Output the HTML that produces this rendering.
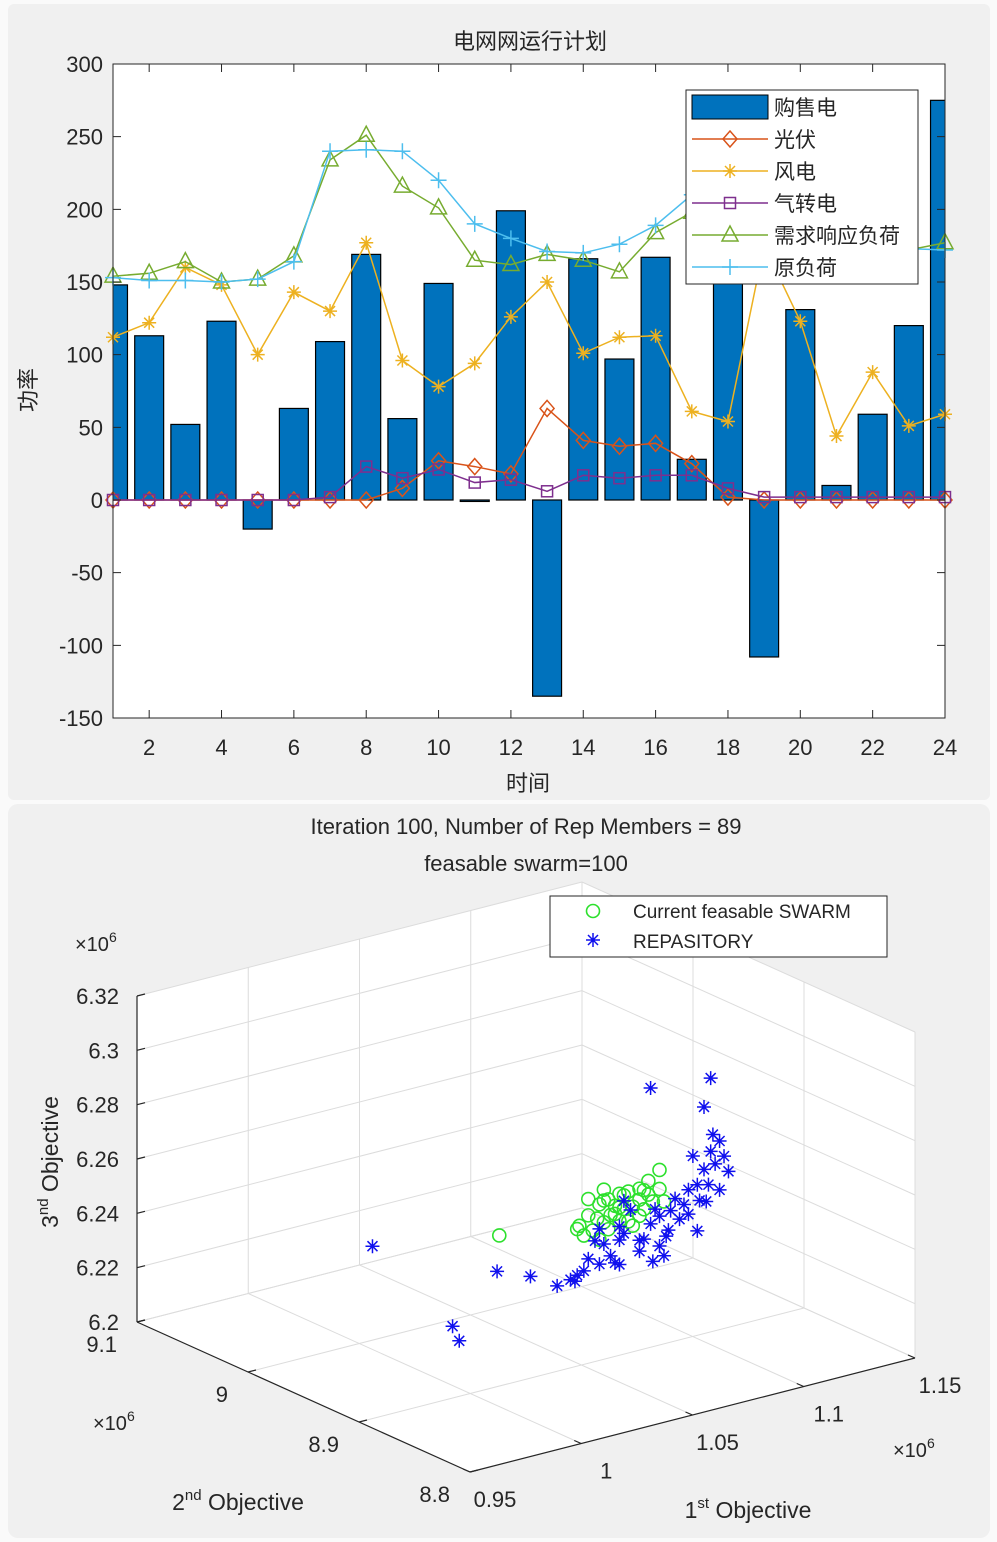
<!DOCTYPE html>
<html><head><meta charset="utf-8">
<style>
html,body{margin:0;padding:0;background:#fafafa;width:997px;height:1542px;overflow:hidden}
svg{position:absolute;left:0;top:0}
text{font-family:"Liberation Sans","Noto Sans CJK SC",sans-serif;fill:#262626}
</style></head>
<body>
<svg id="chart" width="997" height="1542">
<rect x="8" y="4" width="982" height="796" rx="6" fill="#f0f0f0"/>
<rect x="8" y="804" width="982" height="734" rx="10" fill="#f0f0f0"/>
<g id="top"></g>
<g id="bot"></g>
</svg>
<script>
// ===== top chart data =====
const hours=[1,2,3,4,5,6,7,8,9,10,11,12,13,14,15,16,17,18,19,20,21,22,23,24];
const gridPower=[148,113,52,123,-20,63,109,169,56,149,-1,199,-135,166,97,167,28,160,-108,131,10,59,120,275];
const pvPower=[0,0,0,0,0,0,0,0,8,27,23,18,63,41,37,39,25,2,0,0,0,0,0,0];
const windPower=[112,122,160,148,100,143,130,177,96,78,94,126,150,101,112,113,61,54,175,123,44,88,51,59];
const gasPower=[0,0,0,0,0,0,2,23,15,21,12,14,6,17,15,17,17,8,2,2,2,2,2,2];
const drLoad=[154,156,164,150,152,168,234,251,216,201,165,162,169,165,157,184,198,210,205,195,185,175,172,177];
const origLoad=[153,151,151,150,152,164,240,241,240,220,190,180,171,170,176,189,210,220,215,200,190,180,173,172];
const yTicks=[300,250,200,150,100,50,0,-50,-100,-150];
const xTicks=[2,4,6,8,10,12,14,16,18,20,22,24];
// ===== bottom chart data =====
const swarmObj1=[1.074,1.078,1.083,1.087,1.092,1.096,1.101,1.105,1.110,1.112,1.076,1.080,1.085,1.090,1.094,1.098,1.103,1.083,1.087,1.092,1.096,1.101,1.078,1.085,1.105,1.073,1.101,1.090,1.038,1.110,1.094,1.088,1.098,1.107,1.082,1.103,1.092,1.085];
const swarmObj2=[8.95,8.95,8.95,8.95,8.95,8.95,8.95,8.95,8.95,8.95,8.95,8.95,8.95,8.95,8.95,8.95,8.95,8.95,8.95,8.95,8.95,8.95,8.95,8.95,8.95,8.95,8.95,8.95,8.95,8.95,8.95,8.95,8.95,8.95,8.95,8.95,8.95,8.95];
const swarmObj3=[6.237,6.240,6.243,6.244,6.245,6.245,6.245,6.242,6.243,6.238,6.233,6.234,6.236,6.238,6.239,6.239,6.237,6.230,6.233,6.235,6.234,6.235,6.246,6.248,6.247,6.236,6.241,6.241,6.241,6.250,6.244,6.238,6.232,6.239,6.238,6.244,6.240,6.244];
const repObj1=[0.981,1.037,1.052,1.064,1.017,1.020,1.106,1.133,1.130,1.137,1.125,1.141,1.073,1.083,1.092,1.101,1.110,1.114,1.123,1.128,1.132,1.135,1.083,1.092,1.112,1.119,1.076,1.088,1.106,1.101,1.123,1.130,1.137,1.070,1.081,1.097,1.117,1.108,1.133,1.127,1.092,1.094,1.085,1.094,1.103,1.110,1.115,1.121,1.127,1.131,1.134,1.139,1.078,1.090,1.107,1.113,1.072];
const repObj2=[8.95,8.95,8.95,8.95,8.95,8.95,8.95,8.95,8.95,8.95,8.95,8.95,8.95,8.95,8.95,8.95,8.95,8.95,8.95,8.95,8.95,8.95,8.95,8.95,8.95,8.95,8.95,8.95,8.95,8.95,8.95,8.95,8.95,8.95,8.95,8.95,8.95,8.95,8.95,8.95,8.95,8.95,8.95,8.95,8.95,8.95,8.95,8.95,8.95,8.95,8.95,8.95,8.95,8.95,8.95,8.95,8.95];
const repObj3=[6.249,6.228,6.223,6.217,6.212,6.206,6.281,6.279,6.269,6.255,6.252,6.243,6.219,6.221,6.219,6.222,6.222,6.227,6.231,6.235,6.240,6.247,6.234,6.228,6.218,6.230,6.220,6.223,6.231,6.226,6.240,6.246,6.237,6.218,6.230,6.238,6.238,6.236,6.252,6.224,6.233,6.242,6.228,6.230,6.226,6.233,6.234,6.235,6.241,6.234,6.258,6.249,6.224,6.220,6.217,6.225,6.217];
const zTicks=[6.2,6.22,6.24,6.26,6.28,6.3,6.32];
const o1Ticks=[0.95,1,1.05,1.1,1.15];
const o2Ticks=[8.8,8.9,9,9.1];

const NS="http://www.w3.org/2000/svg";
function mk(parent,tag,attrs,txt){const e=document.createElementNS(NS,tag);for(const k in attrs)e.setAttribute(k,attrs[k]);if(txt!==undefined)e.textContent=txt;parent.appendChild(e);return e;}

// ---------- TOP ----------
const T=document.getElementById('top');
const L=113,R=945,TP=64,B=718;
const xs=v=>L+(v-1)*(R-L)/23;
const ys=v=>TP+(300-v)*(B-TP)/450;
const plot=mk(T,'rect',{x:L,y:TP,width:R-L,height:B-TP,fill:'#fff'});


const defs=mk(T,'defs',{});
const cp=mk(defs,'clipPath',{id:'clipTop'});
mk(cp,'rect',{x:L,y:TP,width:R-L,height:B-TP});
const gBars=mk(T,'g',{'clip-path':'url(#clipTop)'});


const bw=0.8*(R-L)/23;
hours.forEach((h,i)=>{
  const v=gridPower[i];const y0=ys(0),y1=ys(v);
  const r=mk(gBars,'rect',{x:xs(h)-bw/2,y:Math.min(y0,y1),width:bw,height:Math.max(1,Math.abs(y1-y0)),fill:'#0072BD',stroke:'#000','stroke-width':1.2});
  
  
});
function marker(g,type,x,y,c){
  const s=7,sw=1.5;
  if(type==='diamond')mk(g,'polygon',{points:`${x},${y-s-1} ${x+s},${y} ${x},${y+s+1} ${x-s},${y}`,fill:'none',stroke:c,'stroke-width':sw});
  else if(type==='square')mk(g,'rect',{x:x-5.5,y:y-5.5,width:11,height:11,fill:'none',stroke:c,'stroke-width':sw});
  else if(type==='tri')mk(g,'polygon',{points:`${x},${y-9} ${x+8},${y+6} ${x-8},${y+6}`,fill:'none',stroke:c,'stroke-width':sw});
  else if(type==='plus'){mk(g,'path',{d:`M${x-8},${y}H${x+8}M${x},${y-8}V${y+8}`,stroke:c,'stroke-width':sw});}
  else if(type==='star'){mk(g,'path',{d:`M${x-7},${y}H${x+7}M${x},${y-7}V${y+7}M${x-5},${y-5}L${x+5},${y+5}M${x-5},${y+5}L${x+5},${y-5}`,stroke:c,'stroke-width':sw});}
}
const series=[
 {name:'line-pv',data:pvPower,c:'#D95319',m:'diamond'},
 {name:'line-wind',data:windPower,c:'#EDB120',m:'star'},
 {name:'line-gas',data:gasPower,c:'#7E2F8E',m:'square'},
 {name:'line-demand-response-load',data:drLoad,c:'#77AC30',m:'tri'},
 {name:'line-original-load',data:origLoad,c:'#4DBEEE',m:'plus'}];
series.forEach(s=>{
  const g=mk(T,'g',{});
  
  
  mk(g,'polyline',{points:hours.map((h,i)=>xs(h)+','+ys(s.data[i])).join(' '),fill:'none',stroke:s.c,'stroke-width':1.5});
  hours.forEach((h,i)=>marker(g,s.m,xs(h),ys(s.data[i]),s.c));
});
const ax=mk(T,'g',{});


mk(ax,'rect',{x:L,y:TP,width:R-L,height:B-TP,fill:'none',stroke:'#262626','stroke-width':1});
yTicks.forEach(v=>{
  mk(ax,'path',{d:`M${L},${ys(v)}h8M${R},${ys(v)}h-8`,stroke:'#262626'});
  const t=mk(ax,'text',{x:L-10,y:ys(v)+8,'text-anchor':'end','font-size':22},String(v));
  
  
});
xTicks.forEach(v=>{
  mk(ax,'path',{d:`M${xs(v)},${B}v-8M${xs(v)},${TP}v8`,stroke:'#262626'});
  const t=mk(ax,'text',{x:xs(v),y:B+37,'text-anchor':'middle','font-size':22},String(v));
  
  
});
let t;
t=mk(T,'text',{x:530,y:49,'text-anchor':'middle','font-size':22},'电网网运行计划');

t=mk(T,'text',{x:528,y:791,'text-anchor':'middle','font-size':22,fill:'#555'},'时间');

t=mk(T,'text',{x:0,y:0,'text-anchor':'middle','font-size':22,transform:'translate(36,390) rotate(-90)'},'功率');

const lg=mk(T,'g',{});


mk(lg,'rect',{x:686,y:90,width:232,height:194,fill:'#fff',stroke:'#262626'});
const labels=['购售电','光伏','风电','气转电','需求响应负荷','原负荷'];
labels.forEach((lb,i)=>{
  const y=107+i*32;
  const e=mk(lg,'g',{});
  
  
  if(i===0)mk(e,'rect',{x:692,y:y-12,width:76,height:24,fill:'#0072BD',stroke:'#000'});
  else{const s=series[i-1];mk(e,'path',{d:`M692,${y}H768`,stroke:s.c,'stroke-width':1.5});marker(e,s.m,730,y,s.c);}
  mk(e,'text',{x:774,y:y+8,'font-size':21,fill:'#333'},lb);
});

// ---------- BOTTOM ----------
const Bt=document.getElementById('bot');
const front=[470,1472],right=[915,1358],left=[137,1322];
const zPx=326;
function P(o1,o2,z){const u=(o1-0.95)/0.2,v=(o2-8.8)/0.3,w=(z-6.2)/0.12;
 return [front[0]+u*(right[0]-front[0])+v*(left[0]-front[0]), front[1]+u*(right[1]-front[1])+v*(left[1]-front[1])-w*zPx];}
const pts=(a)=>a.map(p=>p.join(',')).join(' ');
const panes=mk(Bt,'g',{});


mk(panes,'polygon',{points:pts([P(0.95,9.1,6.2),P(1.15,9.1,6.2),P(1.15,9.1,6.32),P(0.95,9.1,6.32)]),fill:'#fff'});
mk(panes,'polygon',{points:pts([P(1.15,9.1,6.2),P(1.15,8.8,6.2),P(1.15,8.8,6.32),P(1.15,9.1,6.32)]),fill:'#fff'});
mk(panes,'polygon',{points:pts([P(0.95,8.8,6.2),P(1.15,8.8,6.2),P(1.15,9.1,6.2),P(0.95,9.1,6.2)]),fill:'#fff'});
const grid=mk(Bt,'g',{stroke:'#dcdcdc','stroke-width':1,fill:'none'});


function line(g,a,b){mk(g,'line',{x1:a[0],y1:a[1],x2:b[0],y2:b[1]});}
o1Ticks.forEach(v=>{line(grid,P(v,8.8,6.2),P(v,9.1,6.2));line(grid,P(v,9.1,6.2),P(v,9.1,6.32));});
o2Ticks.forEach(v=>{line(grid,P(0.95,v,6.2),P(1.15,v,6.2));line(grid,P(1.15,v,6.2),P(1.15,v,6.32));});
zTicks.forEach(v=>{line(grid,P(0.95,9.1,v),P(1.15,9.1,v));line(grid,P(1.15,9.1,v),P(1.15,8.8,v));});
const ax3=mk(Bt,'g',{stroke:'#262626','stroke-width':1.2});


line(ax3,P(0.95,9.1,6.2),P(0.95,9.1,6.32));
line(ax3,P(0.95,9.1,6.2),P(0.95,8.8,6.2));
line(ax3,P(0.95,8.8,6.2),P(1.15,8.8,6.2));
zTicks.forEach(v=>{const p=P(0.95,9.1,v);line(ax3,p,[p[0]+8,p[1]-2]);
  const tt=mk(Bt,'text',{x:p[0]-18,y:p[1]+8,'text-anchor':'end','font-size':22},String(v));
  });
o2Ticks.forEach(v=>{const p=P(0.95,v,6.2);line(ax3,p,[p[0]+8,p[1]-2]);
  const tt=mk(Bt,'text',{x:p[0]-20,y:p[1]+30,'text-anchor':'end','font-size':22},String(v));
  });
o1Ticks.forEach(v=>{const p=P(v,8.8,6.2);line(ax3,p,[p[0]-7,p[1]-3]);
  const tt=mk(Bt,'text',{x:p[0]+25,y:p[1]+35,'text-anchor':'middle','font-size':22},String(v));
  });
[[100,951],[118,1430],[918,1457]].forEach(p=>{
  const tt=mk(Bt,'text',{x:p[0]-25,y:p[1],'font-size':20,fill:'#333'});
  
  mk(tt,'tspan',{},'×10');mk(tt,'tspan',{dy:-9,'font-size':14},'6');
});
const sw=mk(Bt,'g',{});


swarmObj1.forEach((v,i)=>{const p=P(v,swarmObj2[i],swarmObj3[i]);mk(sw,'circle',{cx:p[0],cy:p[1],r:6.5,fill:'none',stroke:'#2de02d','stroke-width':1.6});});
const rp=mk(Bt,'g',{});


repObj1.forEach((v,i)=>{const p=P(v,repObj2[i],repObj3[i]);marker(rp,'star',p[0],p[1],'#1010ee');});
t=mk(Bt,'text',{x:526,y:834,'text-anchor':'middle','font-size':22},'Iteration 100, Number of Rep Members = 89');

t=mk(Bt,'text',{x:526,y:871,'text-anchor':'middle','font-size':22},'feasable swarm=100');

function supLabel(x,y,a,s,b,rot,name){const tt=mk(Bt,'text',{x:x,y:y,'text-anchor':'middle','font-size':23,transform:rot?`rotate(-90 ${x} ${y})`:''});
 
 mk(tt,'tspan',{},a);mk(tt,'tspan',{dy:-10,'font-size':15},s);mk(tt,'tspan',{dy:10},b);}
supLabel(238,1510,'2','nd',' Objective',false,'obj2-axis-title');
supLabel(748,1518,'1','st',' Objective',false,'obj1-axis-title');
supLabel(58,1162,'3','nd',' Objective',true,'obj3-axis-title');
const lg2=mk(Bt,'g',{});


mk(lg2,'rect',{x:550,y:896,width:337,height:61,fill:'#fff',stroke:'#262626'});
mk(lg2,'circle',{cx:593,cy:911,r:6.5,fill:'none',stroke:'#2de02d','stroke-width':1.6});
marker(lg2,'star',593,940,'#1010ee');
mk(lg2,'text',{x:633,y:918,'font-size':19},'Current feasable SWARM');
mk(lg2,'text',{x:633,y:948,'font-size':19},'REPASITORY');
</script>
</body></html>
